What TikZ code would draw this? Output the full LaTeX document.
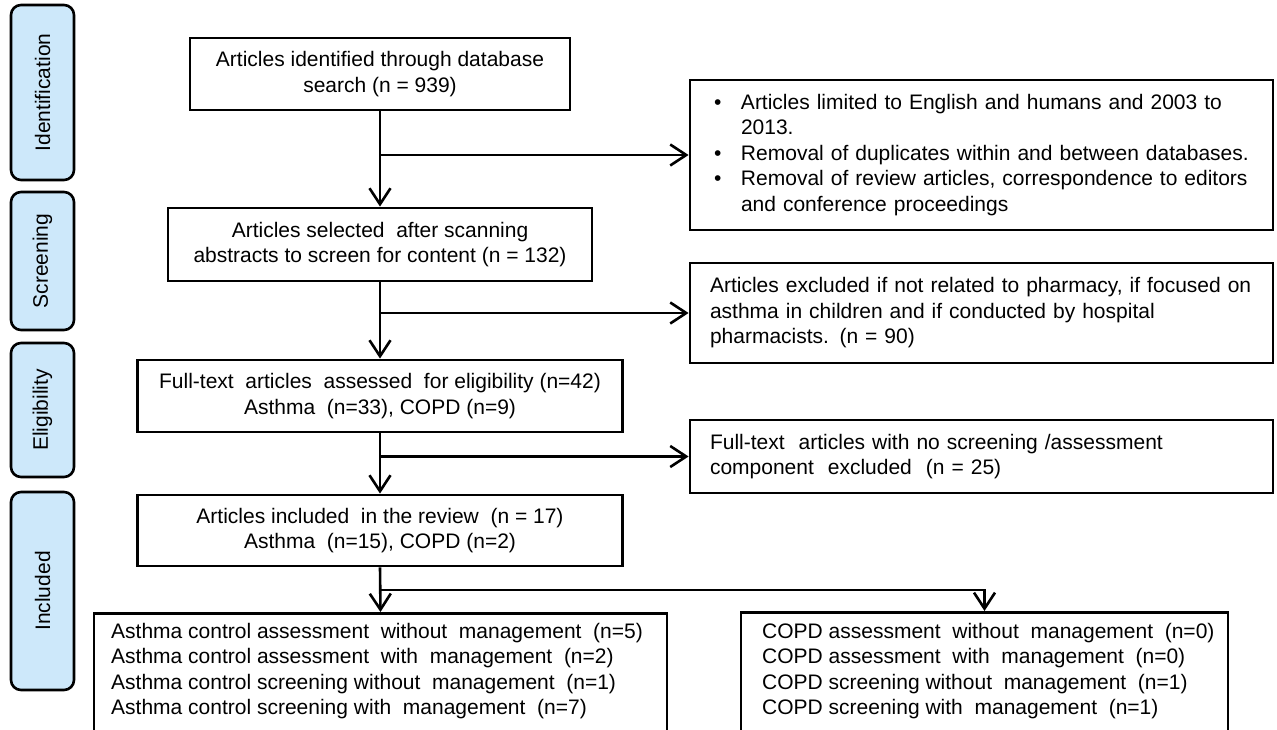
\documentclass[tikz,border=0pt]{standalone}
\usepackage{fontspec}
\setmainfont{Liberation Sans}
\usetikzlibrary{arrows.meta}
\definecolor{stageblue}{RGB}{205,232,250}
\newcommand{\itembul}{\makebox[27pt][l]{\textbullet}}

\begin{document}
\begin{tikzpicture}[x=1pt, y=-1pt,
	every node/.style={font=\fontsize{21}{25.5}\selectfont},
	stage/.style={draw, line width=2.6pt, rounded corners=10pt, fill=stageblue, rotate=90, minimum height=63pt, inner sep=0pt},
	flowbox/.style={draw, line width=2.8pt, align=center, inner sep=0pt},
	listbox/.style={draw, line width=2.8pt, align=left, inner ysep=0pt},
	conn/.style={line width=2.6pt},
	arr/.style={conn, -{Straight Barb[length=16pt,width=21pt]}}]
	\useasboundingbox (0,0) rectangle (1277,730);
	\clip (0,0) rectangle (1277,730);

	% stages
	\node[stage, minimum width=175pt] (ident)  at (42.5,92.5) {Identification};
	\node[stage, minimum width=138pt] (screen) at (42.5,261)  {Screening};
	\node[stage, minimum width=134pt] (elig)   at (42.5,410)  {Eligibility};
	\node[stage, minimum width=198pt] (incl)   at (42.5,591)  {Included};

	% main column
	\node[flowbox, minimum width=380pt, minimum height=72pt] (found)    at (380,74)    {Articles identified through database\\search (n = 939)};
	\node[flowbox, minimum width=424pt, minimum height=73pt] (selected) at (380,244.5) {Articles selected\ \ after scanning\\abstracts to screen for content (n = 132)};
	\node[flowbox, minimum width=485pt, minimum height=72pt] (fulltext) at (380,396)   {Full-text\ \ articles\ \ assessed\ \ for eligibility (n=42)\\Asthma\ \ (n=33), COPD (n=9)};
	\node[flowbox, minimum width=485pt, minimum height=71pt] (included) at (380,530.5) {Articles included\ \ in the review\ \ (n = 17)\\Asthma\ \ (n=15), COPD (n=2)};

	% exclusions
	\node[listbox, minimum width=583pt, minimum height=150pt, inner xsep=24pt, text width=535pt] (excl1) at (981.5,155) {\itembul Articles limited to English and humans and 2003 to\\
		\hspace*{27pt}2013.\\
		\itembul Removal of duplicates within and between databases.\\
		\itembul Removal of review articles, correspondence to editors\\
		\hspace*{27pt}and conference proceedings};
	\node[listbox, minimum width=583pt, minimum height=100pt, inner xsep=20pt, text width=543pt] (excl2) at (981.5,313) {Articles excluded if not related to pharmacy, if focused on\\
		asthma in children and if conducted by hospital\\
		pharmacists. (n = 90)};
	\node[listbox, minimum width=583pt, minimum height=73pt, inner xsep=20pt, text width=543pt] (excl3) at (981.5,456.5) {Full-text\ \ articles with no screening /assessment\\
		component\ \ excluded\ \ (n = 25)};

	% outcome boxes, open at the foot of the page
	\node[flowbox, minimum width=573pt, minimum height=160pt, anchor=north] (asthma) at (380.5,612) {};
	\node[flowbox, minimum width=487pt, minimum height=160pt, anchor=north] (copd)   at (984.5,611) {};
	\node[anchor=north west, align=left, inner sep=0pt] (asthmalist) at (111,623) {Asthma control assessment\ \ without\ \ management\ \ (n=5)\\
		Asthma control assessment\ \ with\ \ management\ \ (n=2)\\
		Asthma control screening without\ \ management\ \ (n=1)\\
		Asthma control screening with\ \ management\ \ (n=7)};
	\node[anchor=north west, align=left, inner sep=0pt] (copdlist) at (762,623) {COPD assessment\ \ without\ \ management\ \ (n=0)\\
		COPD assessment\ \ with\ \ management\ \ (n=0)\\
		COPD screening without\ \ management\ \ (n=1)\\
		COPD screening with\ \ management\ \ (n=1)};

	% connectors
	\coordinate (split1) at (found.south |- excl1.west);
	\coordinate (split2) at (selected.south |- excl2.west);
	\coordinate (split3) at (fulltext.south |- excl3.west);
	\coordinate (split4) at (380,590);
	\draw[arr] (found.south) -- (selected.north);
	\draw[arr] (selected.south) -- (fulltext.north);
	\draw[arr] (fulltext.south) -- (included.north);
	\draw[arr] (included.south) -- (asthma.north);
	\draw[arr] (split1) -- (excl1.west);
	\draw[arr] (split2) -- (excl2.west);
	\draw[arr] (split3) -- (excl3.west);
	\draw[arr] (split4) -| (copd.north);
\end{tikzpicture}
\end{document}
